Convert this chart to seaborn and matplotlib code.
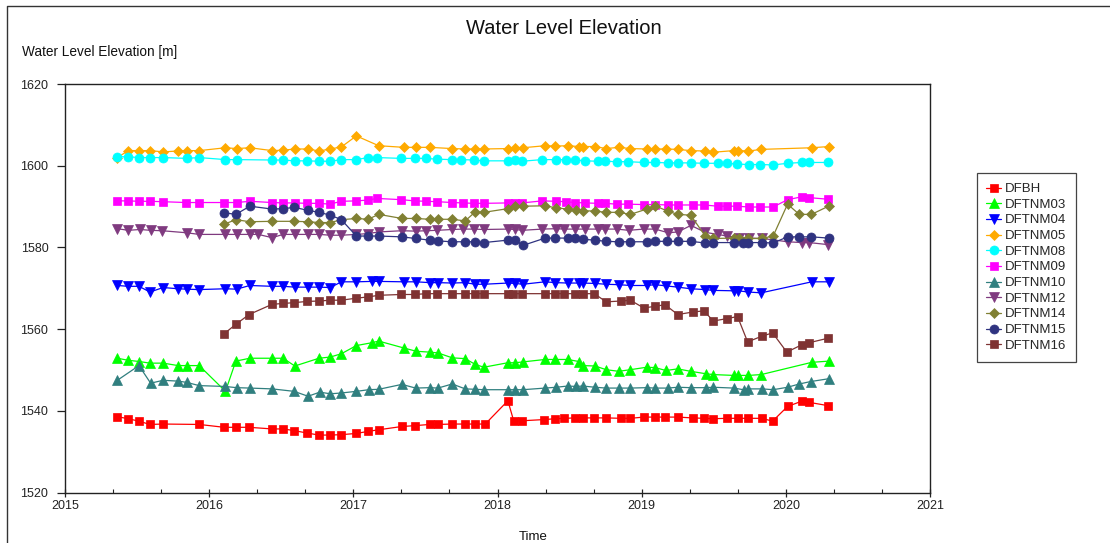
import matplotlib
matplotlib.use("Agg")
import matplotlib.pyplot as plt
import matplotlib.ticker as mticker
from matplotlib.lines import Line2D
import seaborn as sns
import pandas as pd

# ---------------- data (decimal year, water level elevation in m) ----------------
dfbh_x = [2015.363, 2015.439, 2015.513, 2015.589, 2015.681, 2015.931, 2016.104, 2016.185, 2016.277,
          2016.437, 2016.513, 2016.589, 2016.679, 2016.762, 2016.836, 2016.917, 2017.021, 2017.102,
          2017.176, 2017.337, 2017.425, 2017.529, 2017.587, 2017.686, 2017.776, 2017.841, 2017.915,
          2018.072, 2018.113, 2018.171, 2018.326, 2018.402, 2018.464, 2018.541, 2018.591, 2018.672,
          2018.753, 2018.857, 2018.922, 2019.014, 2019.093, 2019.162, 2019.250, 2019.354, 2019.432,
          2019.497, 2019.591, 2019.665, 2019.735, 2019.834, 2019.908, 2020.012, 2020.111, 2020.162,
          2020.293]
dfbh_y = [1538.6, 1538.1, 1537.5, 1536.7, 1536.8, 1536.7, 1536.0, 1536.0, 1536.0,
          1535.6, 1535.6, 1535.2, 1534.6, 1534.1, 1534.1, 1534.2, 1534.5, 1535.0,
          1535.4, 1536.2, 1536.4, 1536.7, 1536.7, 1536.8, 1536.8, 1536.8, 1536.8,
          1542.5, 1537.5, 1537.6, 1537.9, 1538.1, 1538.2, 1538.3, 1538.3, 1538.3,
          1538.3, 1538.2, 1538.2, 1538.5, 1538.5, 1538.5, 1538.5, 1538.3, 1538.2,
          1538.1, 1538.2, 1538.2, 1538.2, 1538.2, 1537.5, 1541.1, 1542.4, 1542.1,
          1541.3]

nm03_x = [2015.363, 2015.439, 2015.515, 2015.589, 2015.681, 2015.785, 2015.843, 2015.931, 2016.113,
          2016.185, 2016.282, 2016.437, 2016.513, 2016.594, 2016.762, 2016.841, 2016.917, 2017.021,
          2017.129, 2017.176, 2017.351, 2017.437, 2017.529, 2017.587, 2017.686, 2017.776, 2017.845,
          2017.905, 2018.072, 2018.123, 2018.176, 2018.330, 2018.402, 2018.487, 2018.564, 2018.591,
          2018.677, 2018.753, 2018.841, 2018.922, 2019.035, 2019.093, 2019.169, 2019.250, 2019.340,
          2019.446, 2019.497, 2019.638, 2019.670, 2019.741, 2019.829, 2020.180, 2020.300]
nm03_y = [1552.9, 1552.4, 1552.1, 1551.7, 1551.7, 1551.1, 1551.1, 1551.1, 1544.8,
          1552.2, 1552.9, 1552.9, 1552.9, 1551.0, 1552.9, 1553.2, 1554.0, 1556.0,
          1556.7, 1557.1, 1555.4, 1554.6, 1554.4, 1554.2, 1553.0, 1552.8, 1551.4,
          1550.7, 1551.8, 1551.8, 1552.0, 1552.6, 1552.6, 1552.6, 1552.1, 1551.1,
          1551.0, 1550.1, 1549.7, 1550.1, 1550.7, 1550.6, 1549.9, 1550.3, 1549.7,
          1549.1, 1548.9, 1548.7, 1548.7, 1548.7, 1548.9, 1551.9, 1552.2]

nm04_x = [2015.363, 2015.439, 2015.513, 2015.589, 2015.681, 2015.785, 2015.843, 2015.931, 2016.113,
          2016.190, 2016.282, 2016.437, 2016.513, 2016.594, 2016.686, 2016.762, 2016.841, 2016.917,
          2017.021, 2017.129, 2017.176, 2017.351, 2017.437, 2017.529, 2017.587, 2017.686, 2017.776,
          2017.845, 2017.905, 2018.072, 2018.123, 2018.176, 2018.330, 2018.402, 2018.487, 2018.564,
          2018.591, 2018.677, 2018.753, 2018.841, 2018.922, 2019.035, 2019.093, 2019.169, 2019.250,
          2019.340, 2019.441, 2019.497, 2019.638, 2019.670, 2019.741, 2019.829, 2020.180, 2020.300]
nm04_y = [1570.7, 1570.5, 1570.5, 1569.1, 1570.2, 1569.9, 1569.8, 1569.7, 1569.9,
          1569.8, 1570.7, 1570.5, 1570.5, 1570.3, 1570.3, 1570.3, 1570.2, 1571.6,
          1571.6, 1571.7, 1571.7, 1571.6, 1571.6, 1571.4, 1571.4, 1571.3, 1571.4,
          1571.0, 1571.0, 1571.3, 1571.2, 1571.0, 1571.6, 1571.4, 1571.3, 1571.3,
          1571.3, 1571.2, 1571.0, 1570.9, 1570.7, 1570.7, 1570.9, 1570.6, 1570.3,
          1569.9, 1569.7, 1569.5, 1569.4, 1569.4, 1569.1, 1568.9, 1571.6, 1571.6]

nm05_x = [2015.363, 2015.439, 2015.513, 2015.589, 2015.681, 2015.785, 2015.843, 2015.931, 2016.113,
          2016.190, 2016.282, 2016.437, 2016.513, 2016.594, 2016.686, 2016.762, 2016.841, 2016.917,
          2017.021, 2017.176, 2017.351, 2017.437, 2017.529, 2017.686, 2017.776, 2017.845, 2017.905,
          2018.072, 2018.123, 2018.176, 2018.330, 2018.402, 2018.487, 2018.564, 2018.591, 2018.677,
          2018.753, 2018.841, 2018.922, 2019.035, 2019.093, 2019.169, 2019.250, 2019.340, 2019.441,
          2019.497, 2019.638, 2019.670, 2019.741, 2019.829, 2020.180, 2020.300]
nm05_y = [1602.0, 1603.7, 1603.7, 1603.7, 1603.4, 1603.6, 1603.7, 1603.7, 1604.4,
          1604.2, 1604.4, 1603.7, 1603.8, 1604.1, 1604.1, 1603.6, 1604.1, 1604.6,
          1607.3, 1604.9, 1604.5, 1604.5, 1604.5, 1604.2, 1604.1, 1604.1, 1604.1,
          1604.2, 1604.4, 1604.4, 1604.9, 1604.8, 1604.9, 1604.7, 1604.7, 1604.7,
          1604.2, 1604.5, 1604.2, 1604.1, 1604.1, 1604.1, 1604.0, 1603.7, 1603.6,
          1603.3, 1603.7, 1603.7, 1603.6, 1604.0, 1604.4, 1604.7]

nm08_x = [2015.363, 2015.439, 2015.513, 2015.589, 2015.681, 2015.843, 2015.931, 2016.113, 2016.190,
          2016.437, 2016.513, 2016.594, 2016.679, 2016.762, 2016.841, 2016.917, 2017.021, 2017.102,
          2017.164, 2017.333, 2017.425, 2017.506, 2017.582, 2017.686, 2017.748, 2017.836, 2017.905,
          2018.072, 2018.123, 2018.169, 2018.310, 2018.407, 2018.476, 2018.541, 2018.608, 2018.695,
          2018.748, 2018.827, 2018.903, 2019.014, 2019.093, 2019.185, 2019.250, 2019.342, 2019.432,
          2019.527, 2019.591, 2019.661, 2019.746, 2019.822, 2019.912, 2020.012, 2020.111, 2020.162,
          2020.293]
nm08_y = [1602.2, 1602.2, 1602.0, 1602.0, 1602.0, 1601.8, 1602.0, 1601.5, 1601.5,
          1601.4, 1601.4, 1601.2, 1601.2, 1601.1, 1601.1, 1601.5, 1601.5, 1602.0,
          1602.0, 1601.8, 1601.8, 1601.8, 1601.6, 1601.5, 1601.5, 1601.4, 1601.2,
          1601.2, 1601.4, 1601.1, 1601.5, 1601.5, 1601.5, 1601.4, 1601.2, 1601.1,
          1601.1, 1601.0, 1601.0, 1600.8, 1600.8, 1600.7, 1600.7, 1600.7, 1600.6,
          1600.6, 1600.6, 1600.4, 1600.3, 1600.3, 1600.2, 1600.6, 1600.8, 1600.8,
          1600.8]

nm09_x = [2015.363, 2015.439, 2015.513, 2015.589, 2015.681, 2015.838, 2015.931, 2016.104, 2016.190,
          2016.282, 2016.437, 2016.513, 2016.594, 2016.679, 2016.762, 2016.836, 2016.917, 2017.021,
          2017.102, 2017.164, 2017.333, 2017.425, 2017.506, 2017.582, 2017.686, 2017.760, 2017.836,
          2017.905, 2018.072, 2018.118, 2018.169, 2018.310, 2018.407, 2018.476, 2018.541, 2018.608,
          2018.695, 2018.748, 2018.827, 2018.903, 2019.014, 2019.093, 2019.185, 2019.250, 2019.358,
          2019.432, 2019.527, 2019.591, 2019.661, 2019.746, 2019.822, 2019.912, 2020.012, 2020.111,
          2020.162, 2020.293]
nm09_y = [1591.4, 1591.4, 1591.3, 1591.3, 1591.2, 1591.0, 1591.0, 1591.0, 1591.0,
          1591.3, 1591.0, 1590.9, 1590.9, 1590.8, 1590.8, 1590.6, 1591.3, 1591.4,
          1591.6, 1592.0, 1591.7, 1591.4, 1591.3, 1591.2, 1591.0, 1590.9, 1590.8,
          1590.8, 1590.9, 1591.0, 1590.9, 1591.4, 1591.3, 1591.2, 1591.0, 1590.9,
          1590.8, 1590.8, 1590.6, 1590.6, 1590.5, 1590.5, 1590.4, 1590.4, 1590.4,
          1590.4, 1590.1, 1590.1, 1590.1, 1589.9, 1589.9, 1589.9, 1591.7, 1592.4,
          1592.2, 1591.8]

nm10_x = [2015.363, 2015.513, 2015.594, 2015.681, 2015.785, 2015.843, 2015.931, 2016.109, 2016.190,
          2016.282, 2016.437, 2016.589, 2016.686, 2016.767, 2016.841, 2016.917, 2017.021, 2017.106,
          2017.176, 2017.337, 2017.432, 2017.529, 2017.587, 2017.686, 2017.776, 2017.845, 2017.905,
          2018.072, 2018.123, 2018.176, 2018.330, 2018.407, 2018.487, 2018.545, 2018.591, 2018.677,
          2018.753, 2018.841, 2018.922, 2019.035, 2019.093, 2019.180, 2019.250, 2019.340, 2019.446,
          2019.497, 2019.638, 2019.707, 2019.741, 2019.838, 2019.912, 2020.012, 2020.093, 2020.173,
          2020.300]
nm10_y = [1547.5, 1551.1, 1546.8, 1547.5, 1547.3, 1547.0, 1546.2, 1546.0, 1545.7,
          1545.6, 1545.4, 1544.8, 1543.6, 1544.6, 1544.2, 1544.4, 1544.8, 1545.2,
          1545.3, 1546.5, 1545.6, 1545.7, 1545.6, 1546.6, 1545.4, 1545.3, 1545.2,
          1545.2, 1545.2, 1545.2, 1545.6, 1545.8, 1546.1, 1546.0, 1546.1, 1545.8,
          1545.6, 1545.6, 1545.6, 1545.7, 1545.6, 1545.6, 1545.8, 1545.7, 1545.7,
          1545.8, 1545.6, 1545.2, 1545.4, 1545.4, 1545.2, 1545.8, 1546.6, 1547.2,
          1547.9]

nm12_x = [2015.363, 2015.439, 2015.520, 2015.594, 2015.674, 2015.843, 2015.931, 2016.109, 2016.190,
          2016.282, 2016.340, 2016.437, 2016.513, 2016.594, 2016.686, 2016.762, 2016.841, 2016.917,
          2017.021, 2017.102, 2017.176, 2017.337, 2017.432, 2017.506, 2017.582, 2017.686, 2017.760,
          2017.836, 2017.905, 2018.072, 2018.123, 2018.171, 2018.310, 2018.407, 2018.464, 2018.541,
          2018.608, 2018.695, 2018.748, 2018.827, 2018.910, 2019.014, 2019.093, 2019.185, 2019.250,
          2019.342, 2019.441, 2019.527, 2019.591, 2019.677, 2019.746, 2019.838, 2020.012, 2020.111,
          2020.162, 2020.293]
nm12_y = [1584.6, 1584.2, 1584.4, 1584.2, 1584.1, 1583.6, 1583.2, 1583.2, 1583.2,
          1583.2, 1583.2, 1582.4, 1583.2, 1583.2, 1583.2, 1583.2, 1583.0, 1583.0,
          1583.2, 1583.4, 1583.8, 1584.1, 1584.0, 1584.1, 1584.2, 1584.4, 1584.5,
          1584.5, 1584.4, 1584.5, 1584.4, 1584.2, 1584.5, 1584.6, 1584.5, 1584.5,
          1584.5, 1584.5, 1584.5, 1584.5, 1584.2, 1584.5, 1584.5, 1583.6, 1583.8,
          1585.4, 1583.7, 1583.2, 1582.8, 1582.4, 1582.3, 1582.2, 1581.4, 1581.2,
          1581.2, 1580.7]

nm14_x = [2016.104, 2016.185, 2016.282, 2016.437, 2016.589, 2016.686, 2016.762, 2016.841, 2016.917,
          2017.021, 2017.102, 2017.176, 2017.337, 2017.432, 2017.529, 2017.587, 2017.686, 2017.776,
          2017.845, 2017.905, 2018.072, 2018.123, 2018.176, 2018.330, 2018.407, 2018.487, 2018.545,
          2018.596, 2018.677, 2018.753, 2018.841, 2018.922, 2019.035, 2019.093, 2019.180, 2019.250,
          2019.340, 2019.441, 2019.497, 2019.638, 2019.677, 2019.741, 2019.834, 2019.912, 2020.012,
          2020.093, 2020.178, 2020.296]
nm14_y = [1585.7, 1586.8, 1586.3, 1586.4, 1586.4, 1586.3, 1586.1, 1586.1, 1586.8,
          1587.1, 1586.9, 1588.1, 1587.1, 1587.1, 1586.9, 1586.9, 1586.9, 1586.5,
          1588.7, 1588.6, 1589.5, 1590.2, 1590.1, 1590.2, 1589.7, 1589.4, 1589.1,
          1589.0, 1588.9, 1588.6, 1588.6, 1588.1, 1589.4, 1590.2, 1588.9, 1588.1,
          1587.9, 1582.8, 1582.2, 1582.3, 1582.2, 1582.2, 1582.2, 1582.8, 1590.6,
          1588.1, 1588.1, 1590.1]

nm15_x = [2016.104, 2016.185, 2016.282, 2016.437, 2016.513, 2016.589, 2016.686, 2016.762, 2016.841,
          2016.917, 2017.021, 2017.102, 2017.176, 2017.337, 2017.432, 2017.529, 2017.587, 2017.686,
          2017.776, 2017.845, 2017.905, 2018.072, 2018.123, 2018.176, 2018.330, 2018.402, 2018.487,
          2018.541, 2018.591, 2018.677, 2018.753, 2018.841, 2018.922, 2019.035, 2019.093, 2019.176,
          2019.250, 2019.340, 2019.441, 2019.497, 2019.638, 2019.700, 2019.741, 2019.834, 2019.912,
          2020.012, 2020.093, 2020.178, 2020.296]
nm15_y = [1588.5, 1588.1, 1590.1, 1589.4, 1589.5, 1589.8, 1589.1, 1588.6, 1587.9,
          1586.8, 1582.8, 1582.8, 1582.8, 1582.6, 1582.2, 1581.8, 1581.6, 1581.4,
          1581.4, 1581.4, 1581.2, 1581.8, 1581.8, 1580.5, 1582.3, 1582.3, 1582.3,
          1582.2, 1582.0, 1581.8, 1581.5, 1581.4, 1581.4, 1581.4, 1581.5, 1581.5,
          1581.5, 1581.5, 1581.1, 1581.2, 1581.2, 1581.2, 1581.2, 1581.2, 1581.1,
          1582.6, 1582.6, 1582.6, 1582.3]

nm16_x = [2016.104, 2016.185, 2016.277, 2016.437, 2016.513, 2016.589, 2016.679, 2016.762, 2016.841,
          2016.917, 2017.021, 2017.102, 2017.176, 2017.333, 2017.425, 2017.506, 2017.582, 2017.686,
          2017.776, 2017.845, 2017.905, 2018.072, 2018.106, 2018.171, 2018.330, 2018.402, 2018.464,
          2018.541, 2018.591, 2018.672, 2018.753, 2018.857, 2018.922, 2019.014, 2019.093, 2019.162,
          2019.250, 2019.354, 2019.432, 2019.497, 2019.591, 2019.665, 2019.735, 2019.834, 2019.908,
          2020.007, 2020.111, 2020.162, 2020.293]
nm16_y = [1558.9, 1561.2, 1563.6, 1566.1, 1566.3, 1566.5, 1566.8, 1566.9, 1567.1,
          1567.1, 1567.6, 1567.9, 1568.3, 1568.5, 1568.5, 1568.7, 1568.7, 1568.7,
          1568.7, 1568.7, 1568.7, 1568.7, 1568.7, 1568.7, 1568.7, 1568.7, 1568.7,
          1568.7, 1568.7, 1568.7, 1566.7, 1566.9, 1567.1, 1565.2, 1565.6, 1566.0,
          1563.6, 1564.2, 1564.5, 1562.0, 1562.6, 1563.1, 1556.9, 1558.3, 1559.1,
          1554.4, 1556.2, 1556.7, 1557.8]

wells = ["DFBH", "DFTNM03", "DFTNM04", "DFTNM05", "DFTNM08", "DFTNM09",
         "DFTNM10", "DFTNM12", "DFTNM14", "DFTNM15", "DFTNM16"]
series_x = [dfbh_x, nm03_x, nm04_x, nm05_x, nm08_x, nm09_x, nm10_x, nm12_x, nm14_x, nm15_x, nm16_x]
series_y = [dfbh_y, nm03_y, nm04_y, nm05_y, nm08_y, nm09_y, nm10_y, nm12_y, nm14_y, nm15_y, nm16_y]
colors = ["#ff0000", "#00ff00", "#0000ff", "#ffaa00", "#00ffff", "#ff00ff",
          "#307f7f", "#7f3a7f", "#808033", "#2f3380", "#7f3333"]
markers = ["s", "^", "v", "D", "o", "s", "^", "v", "D", "o", "s"]
msizes = [6.0, 6.5, 6.5, 5.0, 6.5, 6.0, 6.5, 6.5, 5.0, 6.5, 6.0]
year_ticks = [2015, 2016, 2017, 2018, 2019, 2020, 2021]
y_ticks = [1520, 1540, 1560, 1580, 1600, 1620]

# ---------------- figure ----------------
sns.set_style("white")
plt.rcParams["font.family"] = ["Liberation Sans", "DejaVu Sans"]

W, H = 1110, 543
fig = plt.figure(figsize=(W / 100, H / 100), dpi=100)
ax = fig.add_axes([65 / W, 1 - 492.7 / H, (930 - 65) / W, (492.7 - 84) / H])

for name, xs, ys, c, m, ms in zip(wells, series_x, series_y, colors, markers, msizes):
    d = pd.DataFrame({"Year": xs, "Level": ys})
    sns.lineplot(data=d, x="Year", y="Level", ax=ax, color=c, marker=m,
                 markersize=ms, markeredgecolor=c, markeredgewidth=0.5,
                 linewidth=0.9, label=name, legend=False)

ax.set_xlim(year_ticks[0], year_ticks[-1])
ax.set_ylim(y_ticks[0], y_ticks[-1])
ax.set_xticks(year_ticks)
ax.set_xticklabels([str(t) for t in year_ticks])
ax.set_yticks(y_ticks)
ax.set_yticklabels([str(t) for t in y_ticks])
ax.xaxis.set_minor_locator(mticker.MultipleLocator(1 / 3))
ax.set_xlabel("")
ax.set_ylabel("")

for s in ax.spines.values():
    s.set_color("#222222")
    s.set_linewidth(1.0)

ax.tick_params(axis="x", which="major", direction="inout", length=6, width=0.9,
               pad=2, labelsize=9, colors="#222222", bottom=True)
ax.tick_params(axis="x", which="minor", direction="in", length=3, width=0.8,
               colors="#222222", bottom=True)
ax.tick_params(axis="y", which="major", direction="out", length=6, width=0.9,
               pad=6, labelsize=9, colors="#222222", left=True)

# titles / labels as figure text
fig.text(564 / W, 1 - 29 / H, "Water Level Elevation", ha="center", va="center",
         fontsize=14.5, color="#111111")
fig.text(22 / W, 1 - 52 / H, "Water Level Elevation [m]", ha="left", va="center",
         fontsize=9.8, color="#111111")
fig.text(533 / W, 1 - 537 / H, "Time", ha="center", va="center",
         fontsize=9.5, color="#111111")

# figure frame (top and left edges visible)
fig.add_artist(Line2D([7 / W, 7 / W, 1.01], [-0.01, 1 - 6 / H, 1 - 6 / H],
                      transform=fig.transFigure, color="#333333", linewidth=1.0))

handles, labels = ax.get_legend_handles_labels()
leg = fig.legend(handles, labels, loc="upper left",
                 bbox_to_anchor=(976.5 / W, 1 - 173 / H), borderaxespad=0,
                 frameon=True, fancybox=False, edgecolor="#444444", framealpha=1,
                 fontsize=9.5, handlelength=1.1, handletextpad=0.3,
                 labelspacing=0.26, borderpad=0.75)
leg.get_frame().set_linewidth(0.9)

fig.savefig("out.png", dpi=100)
